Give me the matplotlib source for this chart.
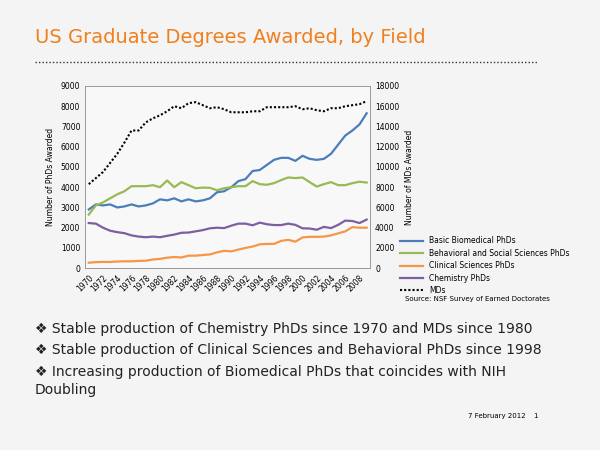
import numpy as np
import matplotlib.pyplot as plt
from matplotlib.lines import Line2D

years = list(range(1970, 2010))
biomed = [2900, 3150, 3100, 3150, 3000, 3050, 3150, 3050, 3100, 3200,
          3400, 3350, 3450, 3300, 3400, 3300, 3350, 3450, 3750, 3800,
          4000, 4300, 4400, 4800, 4850, 5100, 5350, 5450, 5450, 5300,
          5550, 5400, 5350, 5400, 5650, 6100, 6550, 6800, 7100, 7650]
behav = [2650, 3100, 3250, 3450, 3650, 3800, 4050, 4050, 4050, 4100,
         4000, 4330, 4000, 4250, 4100, 3950, 3980, 3970, 3850, 3950,
         4000, 4050, 4050, 4300, 4150, 4120, 4200, 4350, 4480, 4450,
         4480, 4250, 4030, 4150, 4250, 4100, 4100, 4200, 4270, 4230]
clinical = [270, 300, 310, 310, 330, 340, 340, 360, 370, 430,
            460, 520, 550, 530, 620, 620, 650, 680, 780, 860,
            830, 920, 1000, 1070, 1180, 1200, 1200, 1350, 1400, 1310,
            1520, 1550, 1550, 1560, 1620, 1720, 1820, 2030, 2000, 2000]
chem = [2230, 2200, 2000, 1850, 1780, 1730, 1620, 1560, 1530, 1560,
        1530, 1600, 1660, 1750, 1760, 1820, 1880, 1970, 2000, 1980,
        2100, 2200, 2200, 2120, 2250, 2170, 2130, 2130, 2200, 2140,
        1970, 1960, 1900, 2040, 1980, 2140, 2350, 2330, 2230, 2400]
mds = [8300, 8900, 9500, 10400, 11300, 12400, 13600, 13600, 14400, 14800,
       15100, 15500, 16000, 15800, 16300, 16400, 16100, 15800, 15900, 15700,
       15400, 15400, 15400, 15500, 15500, 15900, 15900, 15900, 15900, 16000,
       15700, 15800, 15600, 15500, 15800, 15800, 16000, 16100, 16200, 16500]

names = ["Basic Biomedical PhDs", "Behavioral and Social Sciences PhDs",
         "Clinical Sciences PhDs", "Chemistry PhDs", "MDs"]
colors = ["#4a7ebb", "#98b954", "#f79646", "#7d5fa0", "black"]

fig = plt.figure(figsize=(6, 4.5), dpi=100)
fig.patch.set_facecolor("#f4f4f4")

# slide title and rule
fig.text(0.058, 0.905, "US Graduate Degrees Awarded, by Field", color="#f07f1e", fontsize=14)
fig.add_artist(Line2D([0.058, 0.895], [0.862, 0.862], color="#333333", lw=1, ls=(0, (1, 1.5))))

ax = fig.add_axes([0.142, 0.404, 0.475, 0.405])
ax.set_facecolor("#f8f8f8")
for s, c in zip([biomed, behav, clinical, chem], colors[:4]):
    ax.plot(years, s, color=c, lw=1.6)
ax.set_xlim(1969.5, 2009.5)
ax.set_ylim(0, 9000)
ax.set_yticks(range(0, 9001, 1000))
ax.set_xticks(range(1970, 2009, 2))
ax.tick_params(axis="x", labelrotation=45, labelsize=5.5, length=0)
ax.tick_params(axis="y", labelsize=5.5, length=0)
for lab in ax.get_xticklabels():
    lab.set_ha("right")
    lab.set_rotation_mode("anchor")
ax.set_ylabel("Number of PhDs Awarded", fontsize=5.5)
for sp in ax.spines.values():
    sp.set_color("#999999")
    sp.set_linewidth(0.6)

ax2 = ax.twinx()
ax2.plot(years, mds, color="black", lw=1.5, ls=(0, (1, 1)))
ax2.set_ylim(0, 18000)
ax2.set_yticks(range(0, 18001, 2000))
ax2.tick_params(axis="y", labelsize=5.5, length=0)
ax2.set_ylabel("Number of MDs Awarded", fontsize=5.5)
for sp in ax2.spines.values():
    sp.set_color("#999999")
    sp.set_linewidth(0.6)

handles = [Line2D([], [], color=c, lw=1.6) for c in colors[:4]]
handles.append(Line2D([], [], color="black", lw=1.5, ls=(0, (1, 1))))
fig.legend(handles, names, loc="upper left", bbox_to_anchor=(0.655, 0.49),
           fontsize=5.5, frameon=False, handlelength=3, labelspacing=0.45)
fig.text(0.675, 0.33, "Source: NSF Survey of Earned Doctorates", fontsize=5)

bullets = ["❖ Stable production of Chemistry PhDs since 1970 and MDs since 1980",
           "❖ Stable production of Clinical Sciences and Behavioral PhDs since 1998",
           "❖ Increasing production of Biomedical PhDs that coincides with NIH\nDoubling"]
ys = [0.27, 0.222, 0.188]
vas = ["center", "center", "top"]
for y, b, va in zip(ys, bullets, vas):
    fig.text(0.058, y, b, fontsize=10, va=va, color="#222222", linespacing=1.3)

fig.text(0.78, 0.072, "7 February 2012", fontsize=5)
fig.text(0.888, 0.072, "1", fontsize=5)

fig.savefig("out.png", dpi=100, facecolor=fig.get_facecolor())
